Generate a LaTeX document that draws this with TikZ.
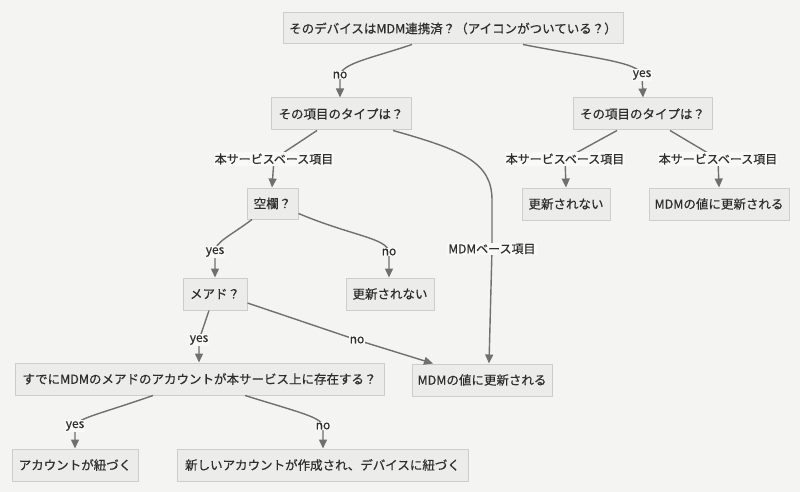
\documentclass[tikz,border=0pt]{standalone}
\usepackage{fontspec}
\setmainfont{Noto Sans CJK JP}[FakeBold=0.5]
\usetikzlibrary{arrows.meta}
\definecolor{bgc}{HTML}{F4F4F2}
\definecolor{lblbg}{HTML}{F9F9F8}
\definecolor{boxfill}{HTML}{ECECEB}
\definecolor{boxline}{HTML}{CDCDCD}
\definecolor{edgec}{HTML}{707070}
\definecolor{txt}{HTML}{2E2E2E}
\begin{document}
\begin{tikzpicture}[x=1pt,y=-1pt,
  box/.style={draw=boxline,fill=boxfill,line width=1pt,minimum height=31pt,inner sep=0pt,text=txt,font=\fontsize{12.5}{14}\selectfont},
  elabel/.style={fill=lblbg,inner sep=1pt,text=txt,font=\fontsize{12}{14}\selectfont},
  edge/.style={draw=edgec,line width=1.4pt},
  arr/.style={-{Triangle[length=9pt,width=8pt]}}]
\fill[bgc] (0,0) rectangle (800,492);
\useasboundingbox (0,0) rectangle (800,492);

% nodes
\node[box,minimum width=340pt] (top) at (453,28.5) {そのデバイスはMDM連携済？（アイコンがついている？）};
\node[box,minimum width=140pt,minimum height=32pt] (a1) at (341,114) {その項目のタイプは？};
\node[box,minimum width=139pt,minimum height=32pt] (a2) at (642.5,114) {その項目のタイプは？};
\node[box,minimum width=51pt] (kuran) at (272.5,203.5) {空欄？};
\node[box,minimum width=88pt,minimum height=32pt] (noupd1) at (390,294) {更新されない};
\node[box,minimum width=64pt,minimum height=32pt] (meado) at (215,294) {メアド？};
\node[box,minimum width=369pt,minimum height=32pt] (sudeni) at (199.5,379) {すでにMDMのメアドのアカウントが本サービス上に存在する？};
\node[box,minimum width=140pt,minimum height=32pt] (mdm1) at (482,380) {MDMの値に更新される};
\node[box,minimum width=126pt,minimum height=32pt] (acct) at (75,465) {アカウントが紐づく};
\node[box,minimum width=291pt,minimum height=32pt] (newacct) at (322.5,465) {新しいアカウントが作成され、デバイスに紐づく};
\node[box,minimum width=88pt,minimum height=32pt] (noupd2) at (566,204) {更新されない};
\node[box,minimum width=140pt,minimum height=32pt] (mdm2) at (719,204) {MDMの値に更新される};

% label positions
\coordinate (lno1) at (340,75);
\coordinate (lyes1) at (642,75);
\coordinate (lsvc1) at (274,159);
\coordinate (lsvc2) at (565,159);
\coordinate (lsvc3) at (718,159);
\coordinate (lmdmb) at (492,249);
\coordinate (lyes2) at (215,252);
\coordinate (lno2) at (389,252);
\coordinate (lyes3) at (199,340);
\coordinate (lno3) at (357,340);
\coordinate (lyes4) at (75,426);
\coordinate (lno4) at (323,426);

% edges
\draw[edge,arr] ([xshift=-41pt]top.south) .. controls (372,58) and (343,63) .. (lno1) -- ([xshift=-1pt]a1.north);
\draw[edge,arr] ([xshift=70pt]top.south) .. controls (592,58) and (639,62) .. (lyes1) -- ([xshift=0.5pt]a2.north);
\draw[edge,arr] ([xshift=-25.5pt]a2.south) -- (lsvc2) -- (noupd2.north);
\draw[edge,arr] ([xshift=27.5pt]a2.south) -- (lsvc3) -- (mdm2.north);
\draw[edge,arr] ([xshift=-24pt]a1.south) -- (lsvc1) -- ([xshift=-0.5pt]kuran.north);
\draw[edge,arr] ([xshift=52pt]a1.south) .. controls (462,150) and (492,162) .. (492,200) -- (lmdmb) -- ([xshift=7pt]mdm1.north);
\draw[edge,arr] ([xshift=-20.5pt]kuran.south) .. controls (230,236) and (215,242) .. (lyes2) -- ([xshift=0pt]meado.north);
\draw[edge,arr] ([yshift=-10pt]kuran.east) .. controls (352,236) and (387,238) .. (lno2) -- ([xshift=-1pt]noupd1.north);
\draw[edge,arr] ([xshift=-6pt]meado.south) -- (lyes3) -- ([xshift=-0.5pt]sudeni.north);
\draw[edge,arr] ([yshift=-9pt]meado.east) -- (lno3) -- ([xshift=-49pt]mdm1.north);
\draw[edge,arr] ([xshift=-46.5pt]sudeni.south) .. controls (100,414) and (78,418) .. (lyes4) -- (acct.north);
\draw[edge,arr] ([xshift=45.5pt]sudeni.south) .. controls (298,412) and (321,417) .. (lno4) -- ([xshift=0.5pt]newacct.north);

% edge labels
\node[elabel] at (lno1) {no};
\node[elabel] at (lyes1) {yes};
\node[elabel] at (lsvc1) {本サービスベース項目};
\node[elabel] at (lsvc2) {本サービスベース項目};
\node[elabel] at (lsvc3) {本サービスベース項目};
\node[elabel] at (lmdmb) {MDMベース項目};
\node[elabel] at (lyes2) {yes};
\node[elabel] at (lno2) {no};
\node[elabel] at (lyes3) {yes};
\node[elabel] at (lno3) {no};
\node[elabel] at (lyes4) {yes};
\node[elabel] at (lno4) {no};
\end{tikzpicture}
\end{document}
